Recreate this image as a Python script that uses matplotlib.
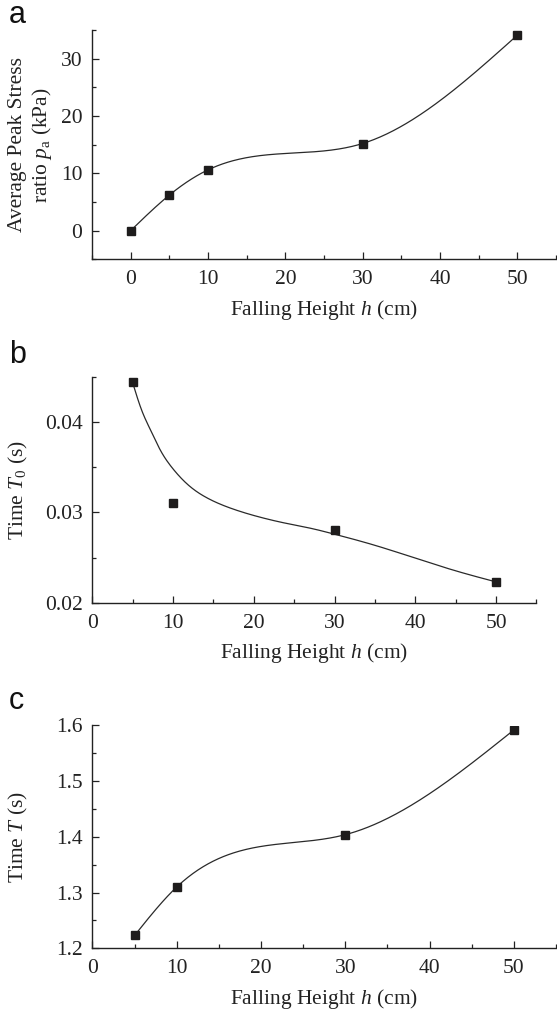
import numpy as np
import matplotlib
matplotlib.use("Agg")
import matplotlib.pyplot as plt
from matplotlib.ticker import MultipleLocator

# ---------------- data ----------------
h_a = [0, 5, 10, 30, 50]
pa = [0.0, 6.2, 10.6, 15.2, 34.1]

h_b = [5, 10, 30, 50]
T0 = [0.0444, 0.0310, 0.0280, 0.0223]
# fitted curve of panel b
fit_h_b = [5, 6.1, 7.2, 8.4, 9.9, 11.9, 14.4, 17.3, 20.6, 23.9, 27.2, 29.9, 34.8, 40.1, 45.1, 50]
fit_T0 = [0.0443, 0.0413, 0.0391, 0.0369, 0.0349, 0.0330, 0.0315, 0.0304, 0.0295,
          0.0288, 0.0282, 0.0276, 0.0264, 0.0249, 0.0235, 0.0223]

h_c = [5, 10, 30, 50]
T = [1.223, 1.310, 1.404, 1.592]

xlabel = "Falling Height $h$ (cm)"
ylabels = ["Average Peak Stress\nratio $p_{\\mathrm{a}}$ (kPa)", "Time $T_0$ (s)", "Time $T$ (s)"]
panel_letters = ["a", "b", "c"]


def natural_spline(x, y, n=300):
    x = np.asarray(x, float)
    y = np.asarray(y, float)
    k = len(x)
    hseg = np.diff(x)
    A = np.zeros((k, k))
    r = np.zeros(k)
    A[0, 0] = 1
    A[-1, -1] = 1
    for i in range(1, k - 1):
        A[i, i - 1] = hseg[i - 1]
        A[i, i] = 2 * (hseg[i - 1] + hseg[i])
        A[i, i + 1] = hseg[i]
        r[i] = 6 * ((y[i + 1] - y[i]) / hseg[i] - (y[i] - y[i - 1]) / hseg[i - 1])
    M = np.linalg.solve(A, r)
    xs = np.linspace(x[0], x[-1], n)
    ys = np.empty_like(xs)
    for j, xv in enumerate(xs):
        i = min(np.searchsorted(x, xv, side="right") - 1, k - 2)
        i = max(i, 0)
        hh = hseg[i]
        t1 = x[i + 1] - xv
        t0 = xv - x[i]
        ys[j] = (M[i] * t1 ** 3 / (6 * hh) + M[i + 1] * t0 ** 3 / (6 * hh)
                 + (y[i] / hh - M[i] * hh / 6) * t1 + (y[i + 1] / hh - M[i + 1] * hh / 6) * t0)
    return xs, ys


plt.rcParams["font.family"] = "Liberation Serif"
plt.rcParams["mathtext.fontset"] = "custom"
plt.rcParams["mathtext.rm"] = "Liberation Serif"
plt.rcParams["mathtext.it"] = "Liberation Serif:italic"
plt.rcParams["mathtext.bf"] = "Liberation Serif:bold"

fig = plt.figure(figsize=(5.57, 10.10), dpi=100)
W, H = 557.0, 1010.0


def add_ax(l, r, t, b):
    return fig.add_axes([l / W, 1 - b / H, (r - l) / W, (b - t) / H])


axes = [add_ax(92, 556, 30, 259.3), add_ax(92.4, 536.4, 376.7, 602.7), add_ax(92.4, 556, 725.5, 948.3)]

line_col = "#2a2a2a"
mk_col = "#1e1c1c"
txt_col = "#222222"
fs = 15.5

# panel a
ax = axes[0]
xs, ys = natural_spline(h_a, pa)
ax.plot(xs, ys, color=line_col, lw=0.9)
ax.plot(h_a, pa, "s", color=mk_col, ms=6.2)
ax.set_xlim(-5, 55)
ax.set_ylim(-5, 35)
ax.set_xticks([0, 10, 20, 30, 40, 50])
ax.xaxis.set_minor_locator(MultipleLocator(5))
ax.set_yticks([0, 10, 20, 30])
ax.yaxis.set_minor_locator(MultipleLocator(5))

# panel b
ax = axes[1]
xs, ys = natural_spline(fit_h_b, fit_T0)
ax.plot(xs, ys, color=line_col, lw=0.9)
ax.plot(h_b, T0, "s", color=mk_col, ms=6.2)
ax.set_xlim(0, 55)
ax.set_ylim(0.02, 0.045)
ax.set_xticks([0, 10, 20, 30, 40, 50])
ax.xaxis.set_minor_locator(MultipleLocator(5))
ax.set_yticks([0.02, 0.03, 0.04])
ax.set_yticklabels(["0.02", "0.03", "0.04"])
ax.yaxis.set_minor_locator(MultipleLocator(0.005))

# panel c
ax = axes[2]
xs, ys = natural_spline(h_c, T)
ax.plot(xs, ys, color=line_col, lw=0.9)
ax.plot(h_c, T, "s", color=mk_col, ms=6.2)
ax.set_xlim(0, 55)
ax.set_ylim(1.2, 1.6)
ax.set_xticks([0, 10, 20, 30, 40, 50])
ax.xaxis.set_minor_locator(MultipleLocator(5))
ax.set_yticks([1.2, 1.3, 1.4, 1.5, 1.6])
ax.set_yticklabels(["1.2", "1.3", "1.4", "1.5", "1.6"])
ax.yaxis.set_minor_locator(MultipleLocator(0.05))

ylab_x = [31, 18, 18]
for i, ax in enumerate(axes):
    for s in ["top", "right"]:
        ax.spines[s].set_visible(False)
    for s in ["left", "bottom"]:
        ax.spines[s].set_linewidth(1.0)
        ax.spines[s].set_color(txt_col)
    ax.tick_params(which="major", direction="in", length=5, width=0.9, labelsize=fs,
                   colors=txt_col)
    ax.tick_params(which="minor", direction="in", length=3, width=0.9, colors=txt_col)
    ax.tick_params(axis="x", which="major", pad=8)
    ax.tick_params(axis="y", which="major", pad=7)
    ax.set_xlabel(xlabel, fontsize=fs, color=txt_col, labelpad=6)
    pos = ax.get_position()
    yc = (pos.y0 + pos.y1) / 2
    fig.text(ylab_x[i] / W, yc, ylabels[i], rotation=90, ha="center", va="center",
             fontsize=fs, color=txt_col, linespacing=1.2, multialignment="center")

# panel letters
letter_y = [15, 355, 701]
for letter, yy in zip(panel_letters, letter_y):
    fig.text(9 / W, 1 - yy / H, letter, fontsize=22, family="Liberation Sans",
             va="center", ha="left", color="#111111")

fig.savefig("out.png", dpi=100)
